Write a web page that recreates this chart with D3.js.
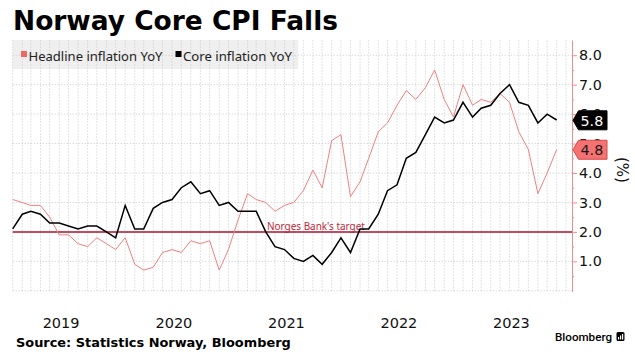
<!DOCTYPE html>
<html><head><meta charset="utf-8">
<script src="https://cdn.jsdelivr.net/npm/d3@7"></script>
<style>body{margin:0;background:#fff}svg{display:block}</style>
</head><body>
<svg id="c" width="635" height="357"></svg>
<script>
// ---- data ----
const title = "Norway Core CPI Falls";
const seriesNames = ["Headline inflation YoY", "Core inflation YoY"];
const firstMonth = [2019, 0]; // Jan 2019
const headline = [
  3.1, 3.0, 2.9, 2.9, 2.5, 1.9, 1.9, 1.6, 1.5, 1.8, 1.6, 1.4,
  1.8, 0.9, 0.7, 0.8, 1.3, 1.4, 1.3, 1.7, 1.6, 1.7, 0.7, 1.4,
  2.4, 3.3, 3.1, 3.0, 2.7, 2.9, 3.0, 3.4, 4.1, 3.5, 5.1, 5.3,
  3.2, 3.7, 4.5, 5.4, 5.7, 6.3, 6.8, 6.5, 6.9, 7.5, 6.5, 5.9,
  7.0, 6.3, 6.5, 6.4, 6.7, 6.4, 5.4, 4.8, 3.3, 4.0, 4.8
];
const core = [
  2.1, 2.6, 2.7, 2.6, 2.3, 2.3, 2.2, 2.1, 2.2, 2.2, 2.0, 1.8,
  2.9, 2.1, 2.1, 2.8, 3.0, 3.1, 3.5, 3.7, 3.3, 3.4, 2.9, 3.0,
  2.7, 2.7, 2.7, 2.0, 1.5, 1.4, 1.1, 1.0, 1.2, 0.9, 1.3, 1.8,
  1.3, 2.1, 2.1, 2.6, 3.4, 3.6, 4.5, 4.7, 5.3, 5.9, 5.7, 5.8,
  6.4, 5.9, 6.2, 6.3, 6.7, 7.0, 6.4, 6.3, 5.7, 6.0, 5.8
];
const yTicks = [1, 2, 3, 4, 5, 6, 7, 8];
const yMinorTicks = [0.5, 1.5, 2.5, 3.5, 4.5, 5.5, 6.5, 7.5];
const yearLabels = [2019, 2020, 2021, 2022, 2023];
const targetValue = 2.0;
const targetLabel = "Norges Bank's target";
const unitLabel = "(%)";
const sourceText = "Source: Statistics Norway, Bloomberg";
const brand = "Bloomberg";

// ---- setup ----
const FONT = "DejaVu Sans";
const FONT2 = "Noto Sans";
const svg = d3.select("#c");
const pLeft = 12.7, pRight = 572, pTop = 40.5, pBottom = 290.8;
const months = d3.timeMonth.range(new Date(firstMonth[0], firstMonth[1], 1),
                                  new Date(firstMonth[0], firstMonth[1] + headline.length, 1));
const x = d3.scaleTime().domain([months[0], months[months.length - 1]]).range([pLeft, 556.7]);
const y = d3.scaleLinear().domain([0, 8.5]).range([pBottom, pTop]);

function fit(sel, target) {
  const w = sel.node().getComputedTextLength();
  const fs = parseFloat(sel.attr("font-size"));
  sel.attr("font-size", (fs * target / w).toFixed(2));
  return sel;
}

// title
fit(svg.append("text").attr("x", 13).attr("y", 30).attr("font-family", FONT)
  .attr("font-weight", "bold").attr("font-size", 26).attr("fill", "#000").text(title), 325);

// legend background
svg.append("rect").attr("x", pLeft).attr("y", 40).attr("width", 285.5).attr("height", 29)
  .attr("fill", "#efefef");

// grid
const gridMonths = d3.timeMonth.range(new Date(2019, 0, 1), new Date(2024, 1, 1)).filter(d => x(d) <= pRight - 2);
svg.append("g").selectAll("line").data(gridMonths).join("line")
  .attr("x1", d => x(d)).attr("x2", d => x(d)).attr("y1", pTop).attr("y2", pBottom)
  .attr("stroke", "#c8c8c8").attr("stroke-width", 1).attr("stroke-dasharray", "1,2");
svg.append("g").selectAll("line").data([0, ...yTicks]).join("line")
  .attr("x1", pLeft).attr("x2", pRight).attr("y1", d => y(d)).attr("y2", d => y(d))
  .attr("stroke", "#c8c8c8").attr("stroke-width", 1).attr("stroke-dasharray", "1,2");

// legend
const lg = svg.append("g");
lg.append("rect").attr("x", 21).attr("y", 51).attr("width", 6).attr("height", 6).attr("fill", "#f06565");
fit(lg.append("text").attr("x", 28.5).attr("y", 60.5).attr("font-family", FONT2).attr("font-size", 12)
  .attr("fill", "#222").text(seriesNames[0]), 134);
lg.append("rect").attr("x", 175.5).attr("y", 51).attr("width", 6).attr("height", 6).attr("fill", "#000");
fit(lg.append("text").attr("x", 183).attr("y", 60.5).attr("font-family", FONT2).attr("font-size", 12)
  .attr("fill", "#222").text(seriesNames[1]), 109);

// target line
svg.append("line").attr("x1", pLeft).attr("x2", pRight).attr("y1", y(targetValue)).attr("y2", y(targetValue))
  .attr("stroke", "#b3122e").attr("stroke-width", 1.5);
fit(svg.append("text").attr("x", 267).attr("y", y(targetValue) - 1.5).attr("font-family", FONT2)
  .attr("font-size", 11).attr("fill", "#c0263a").text(targetLabel), 98);

// lines
const line = d3.line().x((d, i) => x(months[i])).y(d => y(d));
svg.append("path").datum(headline).attr("d", line).attr("fill", "none")
  .attr("stroke", "#f08080").attr("stroke-width", 1);
svg.append("path").datum(core).attr("d", line).attr("fill", "none")
  .attr("stroke", "#000").attr("stroke-width", 1.5).attr("stroke-linejoin", "miter");

// y axis
const axisColor = "#f08c8c";
const ga = svg.append("g").attr("transform", `translate(${pRight},0)`)
  .call(d3.axisRight(y).tickValues(yTicks).tickFormat(d3.format(".1f")).tickSize(5).tickSizeOuter(0).tickPadding(2));
ga.select(".domain").attr("stroke", axisColor).attr("d", `M0.5,${pTop}V${pBottom + 1}`);
ga.selectAll(".tick line").attr("stroke", axisColor);
ga.selectAll(".tick text").attr("font-family", FONT).attr("font-size", 14.3).attr("fill", "#111");
const gm = svg.append("g").attr("transform", `translate(${pRight},0)`)
  .call(d3.axisRight(y).tickValues(yMinorTicks).tickFormat("").tickSize(2).tickSizeOuter(0));
gm.select(".domain").remove();
gm.selectAll(".tick line").attr("stroke", axisColor);

svg.append("text").attr("transform", `translate(617,170) rotate(90)`).attr("text-anchor", "middle")
  .attr("font-family", FONT).attr("font-size", 15).attr("fill", "#111").text(unitLabel);

// end labels
function endTag(v, fill, stroke, textFill) {
  const cy = y(v) + 0.3, h = 19, x0 = 573, x1 = 578.5, x2 = 607;
  svg.append("path").attr("d", `M${x0},${cy}L${x1},${cy - h / 2}H${x2}V${cy + h / 2}H${x1}Z`)
    .attr("fill", fill).attr("stroke", stroke).attr("stroke-width", 1);
  svg.append("text").attr("x", 580.5).attr("y", cy + 5.3).attr("font-family", FONT)
    .attr("font-size", 14.3).attr("fill", textFill).text(d3.format(".1f")(v));
}
endTag(core[core.length - 1], "#000", "#000", "#fff");
endTag(headline[headline.length - 1], "#f47272", "#d94848", "#1a1a1a");

// x labels
svg.append("g").selectAll("text").data(yearLabels).join("text")
  .attr("x", d => x(new Date(d, 5, 7))).attr("y", 327.5).attr("text-anchor", "middle")
  .attr("font-family", FONT).attr("font-size", 14.5).attr("fill", "#111").text(d => d);

// source
fit(svg.append("text").attr("x", 16).attr("y", 347).attr("font-family", FONT).attr("font-weight", "bold")
  .attr("font-size", 13).attr("fill", "#000").text(sourceText), 275);

// brand
fit(svg.append("text").attr("x", 555).attr("y", 341).attr("font-family", "Roboto").attr("font-weight", 500)
  .attr("font-size", 11).attr("fill", "#000").text(brand), 57);
svg.append("rect").attr("x", 616.5).attr("y", 332).attr("width", 8).attr("height", 9).attr("rx", 1.5).attr("fill", "#000");
svg.append("g").selectAll("rect").data([0, 1, 2]).join("rect")
  .attr("x", d => 618 + d * 2).attr("y", d => 337 - d * 1.5).attr("width", 1.2).attr("height", d => 2.5 + d * 1.5)
  .attr("fill", "#fff");
</script>
</body></html>
